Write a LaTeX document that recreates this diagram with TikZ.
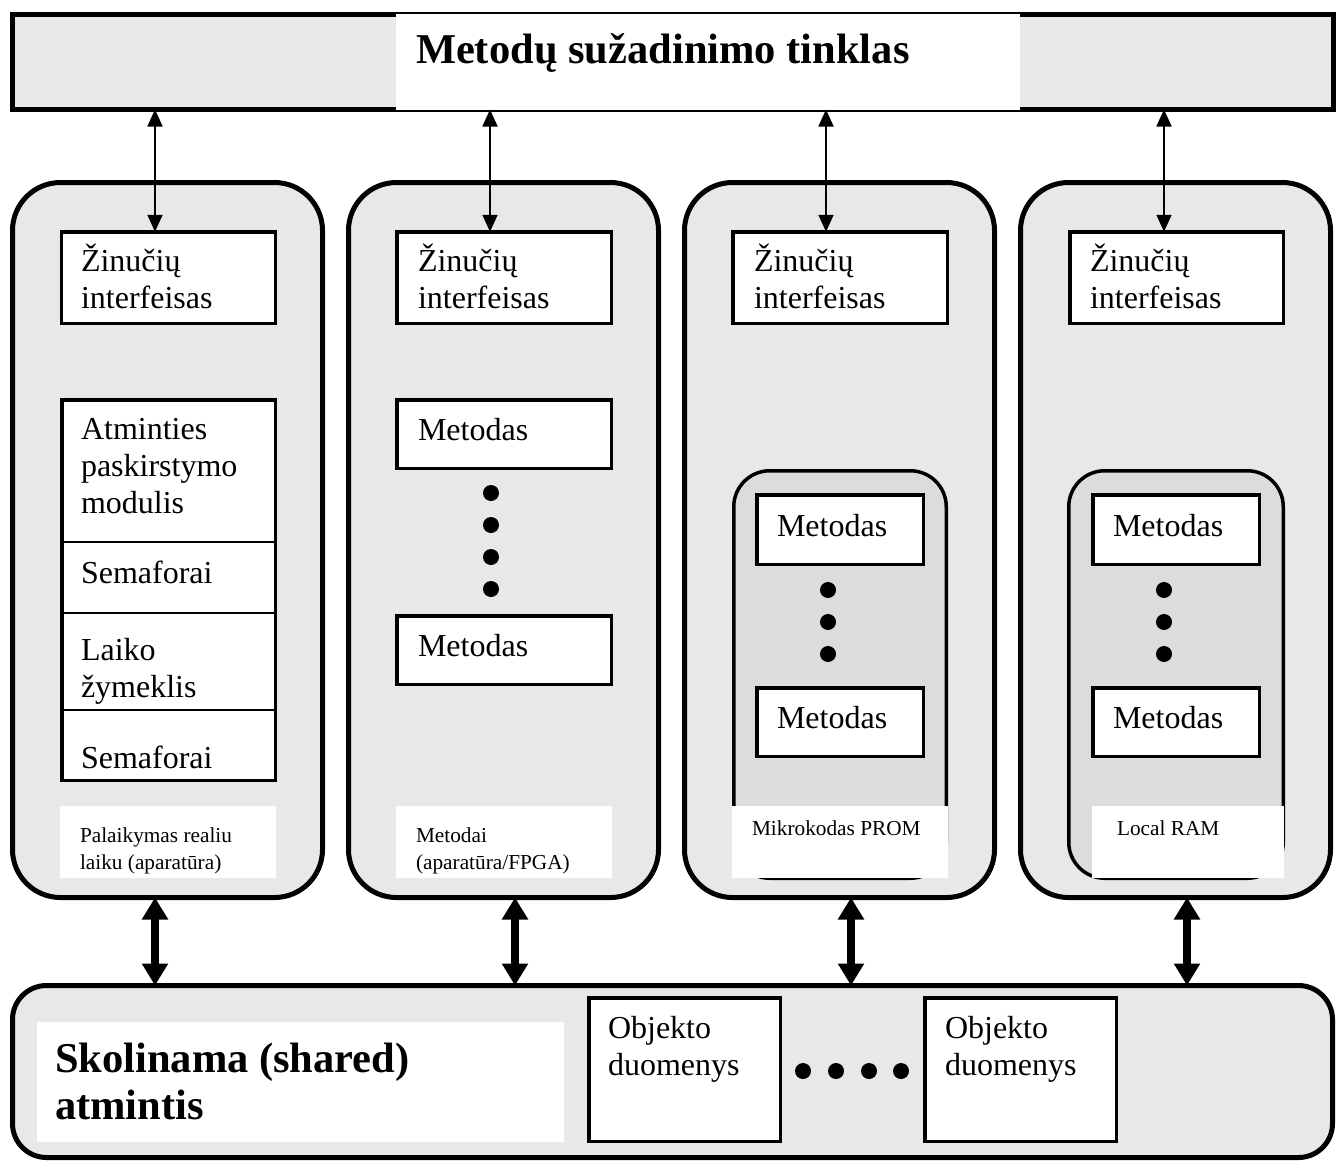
\documentclass[tikz,border=0pt]{standalone}
\usepackage{fontspec}
\setmainfont{Liberation Serif}
\usetikzlibrary{arrows.meta,calc}
\definecolor{panel}{HTML}{E8E8E8}
\definecolor{inner}{HTML}{DCDCDC}
\begin{document}
\begin{tikzpicture}[x=1pt,y=-1pt,
  every node/.style={inner sep=0pt, outer sep=0pt},
  bar/.style={draw, line width=5pt, fill=panel},
  column/.style={draw, line width=5pt, fill=panel, rounded corners=48pt,
    minimum width=310pt, minimum height=715pt},
  pocket/.style={draw, line width=3.5pt, fill=inner, rounded corners=36pt},
  wbox/.style={draw, line width=3.5pt, fill=white},
  plate/.style={fill=white},
  txt/.style={font=\fontsize{32}{37}\selectfont, align=left},
  small/.style={font=\fontsize{21.3}{26.5}\selectfont, align=left},
  heading/.style={font=\fontsize{42.5}{47}\selectfont\bfseries, align=left},
  link/.style={line width=1.8pt, {Triangle[length=17pt,width=15pt]}-{Triangle[length=17pt,width=15pt]}},
  bus/.style={line width=8pt, {Triangle[length=22pt,width=25pt]}-{Triangle[length=22pt,width=25pt]}},
  dot/.style={circle, fill=black, minimum size=16pt}
]
\useasboundingbox (0,0) rectangle (1341,1163);

% invocation network bar
\node[bar, minimum width=1321pt, minimum height=95pt] (net) at (673,62) {};
\node[plate, minimum width=624pt, minimum height=96pt] (netplate) at (708,62) {};
\node[heading, anchor=base west] (nettitle) at (416,63) {Metodų sužadinimo tinklas};

% four processing columns
\node[column] (c1) at (167.5,540) {};
\node[column] (c2) at (503.5,540) {};
\node[column] (c3) at (839.5,540) {};
\node[column] (c4) at (1175.5,540) {};

% message interfaces
\node[wbox, minimum width=214pt, minimum height=91.5pt] (z1) at (168.5,277.5) {};
\node[wbox, minimum width=214.5pt, minimum height=91.5pt] (z2) at (504,277.5) {};
\node[wbox, minimum width=214.5pt, minimum height=91.5pt] (z3) at (840,277.5) {};
\node[wbox, minimum width=213.5pt, minimum height=91.5pt] (z4) at (1176.5,277.5) {};
\foreach \i/\x in {1/81,2/418,3/754,4/1090}{
  \node[txt, anchor=west] (zt\i) at (\x,276) {Žinučių\\interfeisas};
}

% links between the network and the interfaces
\coordinate (a1) at (155,0);
\coordinate (a2) at (490,0);
\coordinate (a3) at (826,0);
\coordinate (a4) at (1164,0);
\foreach \i in {1,2,3,4}{
  \draw[link] (net.south -| a\i) -- (z\i.north -| a\i);
}

% column 1: real-time support stack
\node[wbox, minimum width=213.5pt, minimum height=380.5pt] (stack) at (168.5,590) {};
\draw[line width=1.5pt] (stack.west |- 0,542) coordinate (d1) -- (stack.east |- d1);
\draw[line width=1.5pt] (stack.west |- 0,613) coordinate (d2) -- (stack.east |- d2);
\draw[line width=1.5pt] (stack.west |- 0,710) coordinate (d3) -- (stack.east |- d3);
\node[txt, anchor=west] (s1) at (81,466) {Atminties\\paskirstymo\\modulis};
\node[txt, anchor=base west] (s2) at (81,583) {Semaforai};
\node[txt, anchor=west] (s3) at (81,671) {Laiko\\žymeklis};
\node[txt, anchor=base west] (s4) at (81,768) {Semaforai};
\node[plate, minimum width=216pt, minimum height=72pt] (l1) at (168,842) {};
\node[small, anchor=west] (l1t) at (80,851) {Palaikymas realiu\\laiku (aparatūra)};

% column 2: hardware methods
\node[wbox, minimum width=214.5pt, minimum height=68.5pt] (m21) at (504,434) {};
\node[wbox, minimum width=214.5pt, minimum height=68.5pt] (m22) at (504,650) {};
\node[txt, anchor=base west] (m21t) at (418,440) {Metodas};
\node[txt, anchor=base west] (m22t) at (418,656) {Metodas};
\foreach \y [count=\k] in {493,525,557,589}{
  \node[dot] (p2\k) at (491,\y) {};
}
\node[plate, minimum width=216pt, minimum height=72pt] (l2) at (504,842) {};
\node[small, anchor=west] (l2t) at (416,851) {Metodai\\(aparatūra/FPGA)};

% column 3: microcode PROM
\node[pocket, minimum width=212.5pt, minimum height=407.5pt] (pk3) at (840,674.5) {};
\node[wbox, minimum width=166.5pt, minimum height=69.5pt] (m31) at (840,529.5) {};
\node[wbox, minimum width=166.5pt, minimum height=68.5pt] (m32) at (840,722) {};
\node[txt, anchor=base west] (m31t) at (777,536) {Metodas};
\node[txt, anchor=base west] (m32t) at (777,728) {Metodas};
\foreach \y [count=\k] in {590,622,654}{
  \node[dot] (p3\k) at (828,\y) {};
}
\node[plate, minimum width=216pt, minimum height=72pt] (l3) at (840,842) {};
\node[small, anchor=base west] (l3t) at (752,835) {Mikrokodas PROM};

% column 4: local RAM
\node[pocket, minimum width=214.5pt, minimum height=407.5pt] (pk4) at (1176,674.5) {};
\node[wbox, minimum width=166.5pt, minimum height=69.5pt] (m41) at (1176,529.5) {};
\node[wbox, minimum width=166.5pt, minimum height=68.5pt] (m42) at (1176,722) {};
\node[txt, anchor=base west] (m41t) at (1113,536) {Metodas};
\node[txt, anchor=base west] (m42t) at (1113,728) {Metodas};
\foreach \y [count=\k] in {590,622,654}{
  \node[dot] (p4\k) at (1164,\y) {};
}
\node[plate, minimum width=192pt, minimum height=72pt] (l4) at (1188,842) {};
\node[small, anchor=base west] (l4t) at (1117,835) {Local RAM};

% shared memory
\node[draw, line width=5pt, fill=panel, rounded corners=34pt,
  minimum width=1320pt, minimum height=172pt] (mem) at (672.5,1071.5) {};
\node[plate, minimum width=527pt, minimum height=120pt] (memplate) at (300.5,1082) {};
\node[heading, anchor=west] (memt) at (55,1081) {Skolinama (shared)\\atmintis};
\node[wbox, minimum width=191.5pt, minimum height=143.5pt] (o1) at (684.5,1069.5) {};
\node[wbox, minimum width=191.5pt, minimum height=143.5pt] (o2) at (1020.5,1069.5) {};
\node[txt, anchor=west] (o1t) at (608,1049) {Objekto\\duomenys};
\node[txt, anchor=west] (o2t) at (945,1049) {Objekto\\duomenys};
\foreach \x [count=\k] in {803,836,869,901}{
  \node[dot] (q\k) at (\x,1071) {};
}

% buses between the columns and the shared memory
\coordinate (b1) at (155,0);
\coordinate (b2) at (515,0);
\coordinate (b3) at (851,0);
\coordinate (b4) at (1187,0);
\foreach \i in {1,2,3,4}{
  \draw[bus] (c\i.south -| b\i) -- (mem.north -| b\i);
}
\end{tikzpicture}
\end{document}
